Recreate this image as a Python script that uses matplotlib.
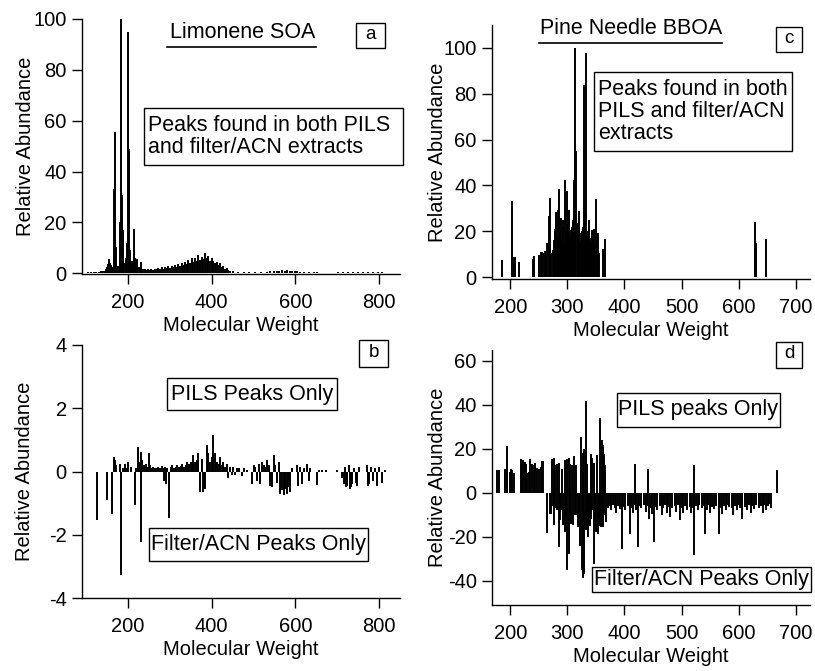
import matplotlib
matplotlib.use("Agg")
import matplotlib.pyplot as plt
from matplotlib.patches import Rectangle
from matplotlib.lines import Line2D

plt.rcParams['font.family'] = ['Liberation Sans', 'DejaVu Sans']
plt.rcParams['axes.unicode_minus'] = False

W, H = 815, 671

# ---- panel a: Limonene SOA, peaks found in both PILS and filter/ACN ----
lim_both_mw = [105, 112, 118, 124, 130, 136, 140, 144, 148, 150,
               152, 154, 156, 158, 160, 162, 164, 166, 167, 169,
               171, 173, 176, 178, 180, 182, 183, 185, 187, 189,
               191, 194, 196, 198, 200, 202, 204, 206, 208, 210,
               212, 214, 216, 218, 222, 226, 230, 232, 236, 240,
               244, 248, 252, 256, 260, 264, 268, 272, 276, 280,
               284, 288, 292, 296, 300, 304, 308, 312, 316, 320,
               324, 328, 332, 336, 340, 344, 348, 352, 356, 360,
               364, 368, 372, 376, 380, 384, 388, 392, 396, 400,
               404, 408, 412, 416, 420, 424, 428, 432, 436, 440,
               444, 450, 462, 476, 490, 504, 518, 532, 540, 548,
               556, 562, 568, 574, 580, 586, 592, 598, 604, 612,
               620, 632, 644, 652, 702, 714, 726, 738, 750, 762,
               774, 786, 798, 808]
lim_both_ab = [0.4, 0.4, 0.5, 0.5, 0.5, 0.7, 0.8, 1.0, 1.6, 2.5,
               3.5, 5.6, 4.0, 2.8, 3.2, 1.8, 2.5, 7.0, 33, 55.4,
               10.5, 3.0, 2.0, 3.0, 6.0, 20, 100, 30.7, 8.0, 17,
               4.0, 3.0, 6.0, 12, 95, 49, 9.0, 4.0, 3.0, 5.0,
               3.5, 17.5, 6.0, 3.0, 5.7, 2.5, 4.5, 2.0, 1.5, 1.8,
               1.3, 1.6, 1.2, 1.5, 1.3, 1.8, 1.5, 2.0, 1.6, 2.3,
               1.8, 2.5, 1.9, 2.8, 2.2, 3.0, 2.4, 3.2, 2.5, 3.6,
               2.8, 4.0, 3.4, 4.6, 3.5, 5.2, 4.0, 6.0, 4.5, 5.8,
               5.0, 7.1, 5.2, 6.4, 5.5, 7.9, 6.0, 6.6, 4.8, 6.0,
               5.0, 4.2, 4.6, 3.3, 3.9, 2.5, 2.9, 1.8, 2.0, 1.2,
               1.0, 0.7, 0.6, 0.5, 0.5, 0.5, 0.5, 0.6, 0.8, 0.9,
               1.0, 0.9, 1.1, 1.0, 1.2, 0.9, 1.0, 0.8, 0.7, 0.6,
               0.6, 0.5, 0.5, 0.4, 0.4, 0.5, 0.5, 0.5, 0.6, 0.6,
               0.5, 0.6, 0.6, 0.4]

# ---- panel b: Limonene SOA, PILS only (+) / filter-ACN only (-) ----
lim_diff_mw = [127, 149, 162, 166, 168, 171, 180, 184, 188, 193,
               197, 201, 206, 216, 220, 224, 226, 230, 231, 234,
               238, 242, 246, 249, 252, 256, 260, 264, 268, 272,
               276, 280, 283, 286, 288, 290, 294, 299, 302, 306,
               310, 314, 318, 322, 326, 330, 334, 338, 342, 346,
               350, 354, 356, 360, 364, 368, 372, 376, 380, 384,
               388, 392, 396, 400, 404, 408, 412, 416, 420, 424,
               428, 432, 436, 440, 444, 448, 452, 456, 460, 466,
               472, 476, 484, 496, 500, 504, 508, 512, 516, 520,
               524, 528, 532, 536, 540, 544, 548, 552, 556, 560,
               562, 564, 568, 572, 576, 580, 584, 588, 592, 604,
               607, 611, 615, 620, 628, 632, 636, 651, 656, 664,
               672, 700, 712, 715, 718, 721, 724, 727, 730, 733,
               736, 739, 744, 748, 751, 770, 773, 777, 781, 785,
               790, 795, 800, 806, 813]
lim_diff_ab = [-1.54, -0.91, -1.33, 0.46, 0.35, 0.2, 0.25, -3.28, 0.1, 0.25,
               0.1, 0.3, 0.15, -1.07, 0.12, 0.78, 0.3, -2.23, 0.62, 0.35,
               0.2, 0.25, 0.15, 0.6, 0.2, 0.12, 0.15, 0.1, 0.12, 0.15,
               0.1, 0.18, 0.12, -0.3, 0.15, -0.38, 0.12, -1.47, 0.15, 0.2,
               0.12, 0.15, 0.2, 0.15, 0.18, 0.25, 0.15, 0.2, 0.3, 0.25,
               0.3, 0.2, 0.52, 0.3, 0.35, 0.57, -0.64, 0.4, -0.64, -0.55,
               0.85, 0.6, 0.3, 0.45, 1.15, 0.57, 0.3, 0.25, 0.46, 0.2,
               0.3, 0.15, 0.25, -0.2, 0.15, -0.1, 0.15, -0.12, 0.12, 0.1,
               -0.15, 0.1, 0.05, -0.38, 0.2, 0.15, -0.3, 0.25, -0.4, 0.3,
               0.2, 0.15, 0.35, 0.2, -0.45, -0.49, 0.52, 0.2, -0.35, 0.3,
               0.15, -0.7, -0.6, -0.75, -0.55, -0.7, -0.5, -0.65, 0.1, 0.2,
               -0.45, 0.15, -0.4, 0.1, 0.25, -0.3, 0.1, -0.43, 0.05, 0.05,
               0.05, 0.05, -0.2, -0.4, 0.15, -0.5, -0.45, 0.2, -0.54, -0.5,
               -0.4, 0.1, -0.35, -0.45, 0.15, 0.2, -0.45, -0.4, 0.15, -0.3,
               0.1, -0.45, 0.15, -0.35, 0.05]

# ---- panel c: Pine needle BBOA, peaks found in both ----
pine_both_mw = [186, 203, 207, 209, 215, 240, 242, 251, 254, 256,
                259, 261, 263, 265, 267, 269, 270, 272, 274, 276,
                278, 280, 281, 283, 284, 286, 287, 289, 290, 292,
                293, 295, 296, 298, 300, 301, 303, 304, 306, 307,
                309, 310, 312, 313, 314, 316, 318, 319, 321, 322,
                324, 325, 327, 329, 331, 333, 335, 336, 338, 339,
                341, 342, 343, 345, 347, 348, 350, 351, 353, 354,
                356, 363, 366, 628, 631, 648]
pine_both_ab = [7.3, 33.3, 9, 8.7, 6.5, 7.9, 9.3, 9.8, 10.9, 10.9,
                10.5, 11.5, 10.8, 15, 26.5, 14, 34.5, 10.5, 12, 16.3,
                21, 28.4, 18, 29.4, 15, 38.4, 20, 25.8, 17, 22,
                25, 15, 42.5, 20, 37.4, 24, 29.4, 18, 20.7, 19,
                22, 25, 42.5, 35, 100, 54.9, 23.6, 20, 28.7, 15,
                19.2, 20, 22, 84, 28, 97.8, 19, 20, 25, 17,
                14, 15, 20.7, 18, 21, 15, 34, 16, 19.2, 10,
                10.5, 12.2, 16.7, 24, 15, 16.5]

# ---- panel d: Pine needle BBOA, PILS only (+) / filter-ACN only (-) ----
pine_pils_mw = [177, 180, 191, 194, 199, 201, 203, 206, 219, 221,
                223, 225, 227, 230, 232, 235, 238, 241, 244, 247,
                250, 253, 255, 258, 273, 276, 279, 282, 286, 290,
                296, 299, 302, 305, 308, 312, 315, 324, 327, 329,
                332, 335, 341, 344, 347, 352, 357, 360, 362, 364,
                366, 419, 442, 522, 668]
pine_pils_ab = [10.6, 10.6, 11, 21.2, 9.5, 11, 10.3, 9.2, 15.3, 13.9,
                14.8, 14, 13, 9.2, 9.5, 15.3, 13.3, 12.5, 13.8, 11.5,
                11, 11.8, 14.5, 14.5, 15.6, 16, 12.6, 13.3, 13.8, 11,
                14.8, 15.3, 16, 13.3, 12.6, 16.7, 12.6, 25.2, 18.3, 19.8,
                41.7, 13.3, 17.9, 16, 13.8, 17.1, 34, 24, 21.7, 17.9,
                12.6, 13.3, 11, 12.6, 10.5]

pine_filt_mw = [265, 269, 271, 274, 277, 279, 282, 285, 287, 289,
                292, 295, 297, 299, 302, 305, 307, 310, 313, 315,
                318, 321, 323, 325, 327, 328, 330, 332, 334, 336,
                338, 340, 342, 344, 347, 349, 351, 353, 355, 357,
                359, 361, 363, 365, 368, 371, 374, 377, 380, 383,
                386, 389, 392, 395, 398, 401, 406, 409, 412, 415,
                418, 421, 423, 426, 429, 434, 437, 440, 443, 446,
                449, 451, 454, 457, 462, 465, 468, 471, 474, 477,
                480, 483, 488, 491, 494, 497, 500, 503, 506, 509,
                514, 517, 520, 522, 525, 528, 531, 536, 539, 541,
                544, 547, 550, 553, 556, 561, 565, 568, 571, 574,
                577, 580, 583, 588, 591, 594, 597, 600, 603, 606,
                612, 615, 618, 621, 624, 627, 630, 636, 639, 642,
                645, 648, 651, 654, 657]
pine_filt_ab = [-18.2, -9.4, -9.7, -6, -14.7, -7, -8, -24.8, -12.4, -8,
                -14.7, -17.7, -10, -35.2, -27.6, -13.2, -14, -14.7, -10.2, -10,
                -15.3, -12, -24, -35, -30, -38.5, -36.7, -17, -13, -20,
                -12.6, -15, -12, -8, -32.4, -15, -17.7, -18.5, -12, -15,
                -15.3, -8, -15.3, -10, -13.2, -7, -6, -8, -5.5, -7,
                -9, -6, -7.5, -25.3, -6.5, -8, -6, -18.5, -7, -9,
                -5.5, -8, -24.5, -6, -7, -5.5, -8.5, -6, -12, -7,
                -9.5, -22.3, -6.5, -8, -6, -10, -7, -5.5, -9, -6.5,
                -11, -7, -6, -8.5, -5.5, -12.5, -7, -9, -6, -8,
                -6.5, -9, -7, -28.3, -6, -8, -5.5, -7, -6, -18.5,
                -8, -5.5, -9, -6.5, -7.5, -6, -18.5, -7, -9.5, -6,
                -8, -5.5, -6.5, -7, -10, -6, -8, -5.5, -7, -12,
                -6.5, -8, -5.5, -9, -6, -7.5, -5.5, -7, -6, -9,
                -5.5, -8, -6, -5, -7]

lim_ticks = [200, 400, 600, 800]
pine_ticks = [200, 300, 400, 500, 600, 700]


def px_axes(x0, y0, x1, y1):
    return fig.add_axes([x0 / W, 1 - y1 / H, (x1 - x0) / W, (y1 - y0) / H])


def style(ax, ylab_x):
    for s in ['top', 'right']:
        ax.spines[s].set_visible(False)
    for s in ['left', 'bottom']:
        ax.spines[s].set_linewidth(1.0)
    ax.tick_params(axis='both', direction='out', length=7.5, width=1.0,
                   labelsize=14.5)
    ax.tick_params(axis='x', pad=6)
    ax.tick_params(axis='y', pad=3.5)
    ax.set_xlabel('Molecular Weight', fontsize=14.5, labelpad=3)
    ax.set_ylabel('Relative Abundance', fontsize=14.5)
    ax.yaxis.set_label_coords(ylab_x, 0.5)


def box(x0, y0, x1, y1):
    fig.add_artist(Rectangle((x0 / W, 1 - y1 / H), (x1 - x0) / W, (y1 - y0) / H,
                             transform=fig.transFigure, fill=False,
                             ec='black', lw=1.0))


def label(x, y, s, size=15.5, ha='center'):
    fig.text(x / W, 1 - y / H, s, fontsize=size, ha=ha, va='center',
             linespacing=1.05)


fig = plt.figure(figsize=(W / 100, H / 100), dpi=100)

# panel a
ax_a = px_axes(82, 19, 400, 274)
ax_a.vlines(lim_both_mw, 0, lim_both_ab, color='black', lw=1.4)
ax_a.set_xlim(90, 850)
ax_a.set_ylim(-0.3, 100)
ax_a.set_xticks(lim_ticks)
ax_a.set_yticks([0, 20, 40, 60, 80, 100])
style(ax_a, -0.148)

# panel b
ax_b = px_axes(82, 345, 400, 598)
ax_b.vlines(lim_diff_mw, 0, lim_diff_ab, color='black', lw=1.4)
ax_b.set_xlim(90, 850)
ax_b.set_ylim(-4, 4)
ax_b.set_xticks(lim_ticks)
ax_b.set_yticks([-4, -2, 0, 2, 4])
style(ax_b, -0.152)

# panel c
ax_c = px_axes(492, 25, 810, 279)
ax_c.vlines(pine_both_mw, 0, pine_both_ab, color='black', lw=1.4)
ax_c.set_xlim(168, 725)
ax_c.set_ylim(-0.8, 110)
ax_c.set_xticks(pine_ticks)
ax_c.set_yticks([0, 20, 40, 60, 80, 100])
style(ax_c, -0.142)

# panel d
ax_d = px_axes(492, 350, 810, 605)
ax_d.vlines(pine_pils_mw, 0, pine_pils_ab, color='black', lw=1.4)
ax_d.vlines(pine_filt_mw, 0, pine_filt_ab, color='black', lw=1.4)
ax_d.set_xlim(168, 725)
ax_d.set_ylim(-51, 65)
ax_d.set_xticks(pine_ticks)
ax_d.set_yticks([-40, -20, 0, 20, 40, 60])
style(ax_d, -0.142)

# titles with underline
label(242.5, 33, 'Limonene SOA')
fig.add_artist(Line2D([167 / W, 316 / W], [1 - 47 / H] * 2, color='black', lw=1.2))
label(631, 29, 'Pine Needle BBOA')
fig.add_artist(Line2D([539 / W, 722 / W], [1 - 43 / H] * 2, color='black', lw=1.2))

# panel letters
for (x0, y0, x1, y1), s in [((356, 23, 385, 48), 'a'), ((359, 340, 388, 367), 'b'),
                            ((776, 27, 802, 52), 'c'), ((776, 342, 802, 368), 'd')]:
    box(x0, y0, x1, y1)
    label((x0 + x1) / 2, (y0 + y1) / 2 - 1, s, size=13.5)

# annotation boxes
box(144, 108, 403, 165)
label(148, 136.5, 'Peaks found in both PILS\nand filter/ACN extracts', ha='left')
box(594, 72, 792, 151)
label(598, 111.5, 'Peaks found in both\nPILS and filter/ACN\nextracts', ha='left')
box(167, 378, 337, 410)
label(252, 394, 'PILS Peaks Only')
box(149, 528, 368, 561)
label(258.5, 544.5, 'Filter/ACN Peaks Only')
box(617, 393, 780, 427)
label(698.5, 410, 'PILS peaks Only')
box(592, 567, 811, 592)
label(701.5, 579.5, 'Filter/ACN Peaks Only')

fig.savefig('out.png', dpi=100)
